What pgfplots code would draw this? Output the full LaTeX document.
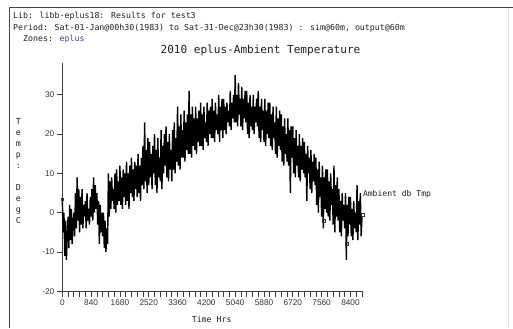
\documentclass[border=0pt]{standalone}
\usepackage{fontspec}
\setmainfont{DejaVu Sans Mono}
\newfontfamily\tickfont{Liberation Sans}
\usepackage{pgfplots}
\pgfplotsset{compat=1.18}
\usepackage{pgfplotstable}
\definecolor{txt}{rgb}{0.13,0.13,0.13}
\definecolor{zone}{rgb}{0.25,0.25,0.6}
\definecolor{frame}{rgb}{0.27,0.27,0.27}

% daily samples (every 24 h), deg C
\pgfplotstableread[row sep=\\]{
T\\
3.4\\ -5\\ 0\\ -11\\ -2\\ -12\\ -6\\
-1\\ -9\\ 2\\ -7\\ 1\\ -8\\ -3\\
0\\ -6\\ 5\\ -4\\ 9\\ -2\\ 6\\
-5\\ 4\\ -3\\ 6\\ -4\\ 2\\ -1\\
3\\ -4\\ 5\\ -2\\ 1\\ -3\\ 4\\
-1\\ 6\\ -2\\ 9\\ 0\\ 7\\ 1\\
5\\ -3\\ 3\\ -8\\ 2\\ -5\\ 0\\
-6\\ 0\\ -9\\ -2\\ -10\\ -4\\ -8\\
10\\ -1\\ 8\\ 1\\ 9\\ 3\\ 6\\
1\\ 10\\ 0\\ 11\\ 2\\ 8\\ 3\\
12\\ 2\\ 9\\ 1\\ 11\\ 4\\ 10\\
2\\ 13\\ 3\\ 10\\ 1\\ 12\\ 5\\
14\\ 4\\ 11\\ 3\\ 13\\ 6\\ 12\\
4\\ 15\\ 5\\ 12\\ 3\\ 14\\ 7\\
17\\ 6\\ 23\\ 8\\ 16\\ 5\\ 19\\
7\\ 18\\ 9\\ 15\\ 6\\ 17\\ 10\\
20\\ 7\\ 16\\ 5\\ 19\\ 9\\ 14\\
8\\ 21\\ 6\\ 17\\ 10\\ 20\\ 12\\
22\\ 9\\ 18\\ 8\\ 20\\ 11\\ 16\\
8\\ 21\\ 11\\ 23\\ 10\\ 19\\ 13\\
27\\ 12\\ 22\\ 11\\ 25\\ 14\\ 21\\
14\\ 26\\ 13\\ 23\\ 16\\ 25\\ 15\\
31\\ 15\\ 25\\ 14\\ 27\\ 17\\ 24\\
16\\ 27\\ 15\\ 24\\ 18\\ 26\\ 17\\
28\\ 17\\ 25\\ 16\\ 27\\ 19\\ 23\\
18\\ 28\\ 17\\ 26\\ 20\\ 27\\ 19\\
29\\ 19\\ 26\\ 18\\ 28\\ 21\\ 25\\
20\\ 30\\ 18\\ 27\\ 21\\ 29\\ 19\\
29\\ 21\\ 27\\ 20\\ 28\\ 23\\ 26\\
22\\ 31\\ 21\\ 28\\ 24\\ 30\\ 23\\
35\\ 23\\ 30\\ 22\\ 33\\ 25\\ 29\\
22\\ 32\\ 21\\ 29\\ 24\\ 31\\ 23\\
31\\ 20\\ 28\\ 19\\ 30\\ 22\\ 27\\
21\\ 30\\ 20\\ 27\\ 23\\ 29\\ 22\\
31\\ 19\\ 27\\ 18\\ 29\\ 21\\ 26\\
18\\ 29\\ 17\\ 26\\ 20\\ 28\\ 19\\
28\\ 17\\ 25\\ 16\\ 27\\ 19\\ 23\\
15\\ 27\\ 14\\ 24\\ 17\\ 26\\ 16\\
25\\ 13\\ 22\\ 12\\ 24\\ 15\\ 20\\
13\\ 24\\ 12\\ 21\\ 5\\ 22\\ 14\\
22\\ 10\\ 19\\ 9\\ 21\\ 12\\ 17\\
9\\ 20\\ 8\\ 17\\ 11\\ 19\\ 10\\
18\\ 9\\ 15\\ 3\\ 17\\ 10\\ 14\\
6\\ 16\\ 5\\ 13\\ 8\\ 15\\ 7\\
14\\ 2\\ 11\\ 0\\ 13\\ 4\\ 9\\
-1\\ 12\\ -4\\ 9\\ 1\\ 11\\ 0\\
11\\ -1\\ 8\\ -2\\ 10\\ 2\\ 6\\
-3\\ 12\\ -5\\ 7\\ -1\\ 9\\ -2\\
6\\ -5\\ 3\\ -6\\ 5\\ -2\\ 2\\
-4\\ 5\\ -12\\ 2\\ -6\\ 4\\ -3\\
4\\ -6\\ 1\\ -7\\ 3\\ -4\\ 0\\
-5\\ 7\\ -7\\ 3\\ -3\\ 5\\ -6\\
-1\\
}\temps

\begin{document}
\begin{tikzpicture}[x=1bp,y=1bp]
\useasboundingbox (0,0) rectangle (513,328);
\fill[white] (0,0) rectangle (513,328);
\draw[frame, line width=1.2bp] (9.5,0) -- (9.5,320.7) -- (513,320.7);
\draw[black!12, line width=0.8bp] (508.5,0) -- (508.5,320);

\begin{scope}[font=\fontsize{8.3}{10}\selectfont, text=txt]
\node[anchor=west, inner sep=0] at (13,311.5) {Lib: libb-eplus18: Results for test3};
\node[anchor=west, inner sep=0] at (13,300) {Period: Sat-01-Jan@00h30(1983) to Sat-31-Dec@23h30(1983) : sim@60m, output@60m};
\node[anchor=west, inner sep=0] at (23,289) {Zones: \textcolor{zone}{eplus}};
\node[inner sep=0] at (211.7,9) {Time Hrs};
\node[align=center, inner sep=0, font=\fontsize{8.3}{11}\selectfont] at (18.3,156.7) {T\\e\\m\\p\\:\\\mbox{}\\D\\e\\g\\C};
\end{scope}
\node[inner sep=0, text=txt, font=\fontsize{11.1}{13}\selectfont] at (260.5,277.5) {2010 eplus-Ambient Temperature};

\begin{axis}[
  at={(62.3bp,36.7bp)}, anchor=south west,
  scale only axis, width=300.5bp, height=227.9bp,
  xmin=0, xmax=8760, ymin=-20, ymax=38,
  axis lines=left, axis line style={-, black!75, line width=0.9bp},
  xtick={0,840,...,8400}, minor xtick={0,168,...,8736},
  ytick={-20,-10,...,30},
  tick align=outside, major tick length=5.5bp, minor tick length=5.5bp,
  tick style={black!75, line width=0.7bp},
  scaled x ticks=false,
  /pgf/number format/1000 sep={},
  /pgf/number format/assume math mode=true,
  tick label style={font=\tickfont\fontsize{8.3}{9}\selectfont, text=black!80},
  xticklabel style={yshift=1bp},
  yticklabel style={xshift=1bp},
  clip=false,
]
\addplot[black, line width=1.4bp, line join=miter, miter limit=2] table[x expr=\coordindex*24, y=T] {\temps};
\addplot[only marks, mark=square, mark size=1.4bp, mark options={black!80, line width=0.6bp}]
  coordinates {(0,3.4) (7620,-2) (8285,-8) (8760,-0.6)};
\node[anchor=west, inner sep=0, text=txt, font=\fontsize{8.1}{10}\selectfont] at (axis cs:8760,4.8) {Ambient db Tmp};
\end{axis}
\end{tikzpicture}
\end{document}
